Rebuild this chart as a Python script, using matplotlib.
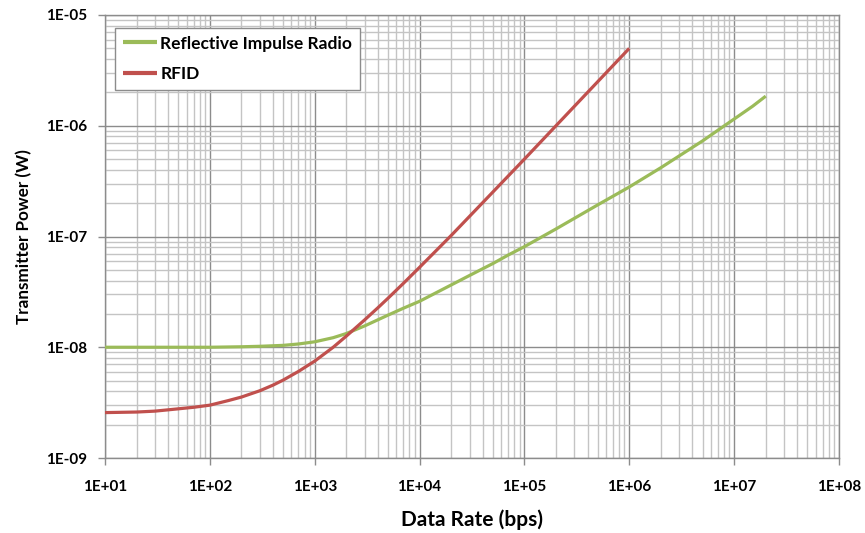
import matplotlib
matplotlib.use("Agg")
import matplotlib.pyplot as plt
from matplotlib.ticker import LogLocator, NullFormatter

plt.rcParams['font.family'] = ['Lato', 'DejaVu Sans']

# Reflective Impulse Radio
rir_x = [10, 20, 50, 100, 200, 300, 500, 700, 1000, 1500, 2000, 3000, 5000, 7000,
         1e4, 2e4, 3e4, 5e4, 7e4, 1e5, 2e5, 5e5, 1e6, 2e6, 5e6, 1e7, 1.5e7, 2e7]
rir_y = [1.0e-8, 1.0e-8, 1.0e-8, 1.0e-8, 1.01e-8, 1.02e-8, 1.04e-8, 1.07e-8,
         1.12e-8, 1.22e-8, 1.33e-8, 1.56e-8, 1.95e-8, 2.25e-8, 2.6e-8, 3.65e-8,
         4.45e-8, 5.7e-8, 6.8e-8, 8.1e-8, 1.17e-7, 1.93e-7, 2.8e-7, 4.18e-7,
         7.3e-7, 1.15e-6, 1.5e-6, 1.85e-6]

# RFID
rfid_x = [10, 20, 30, 50, 70, 100, 150, 200, 300, 400, 500, 700, 1000, 1500,
          2000, 3000, 4000, 5000, 7000, 1e4, 2e4, 5e4, 1e5, 2e5, 5e5, 1e6]
rfid_y = [2.57e-9, 2.6e-9, 2.65e-9, 2.78e-9, 2.87e-9, 3.0e-9, 3.3e-9, 3.55e-9,
          4.05e-9, 4.55e-9, 5.05e-9, 6.05e-9, 7.5e-9, 1.0e-8, 1.26e-8, 1.77e-8,
          2.27e-8, 2.77e-8, 3.77e-8, 5.27e-8, 1.02e-7, 2.52e-7, 5.0e-7, 1.0e-6,
          2.5e-6, 5.0e-6]

series_names = ["Reflective Impulse Radio", "RFID"]
x_ticks = [1e1, 1e2, 1e3, 1e4, 1e5, 1e6, 1e7, 1e8]
x_tick_labels = ["1E+01", "1E+02", "1E+03", "1E+04", "1E+05", "1E+06", "1E+07", "1E+08"]
y_ticks = [1e-9, 1e-8, 1e-7, 1e-6, 1e-5]
y_tick_labels = ["1E-09", "1E-08", "1E-07", "1E-06", "1E-05"]
x_label = "Data Rate (bps)"
y_label = "Transmitter Power (W)"

fig = plt.figure(figsize=(8.65, 5.33), dpi=100)
ax = fig.add_axes([105/865, 1-458/533, (839-105)/865, (458-15)/533])

ax.plot(rir_x, rir_y, color='#9BBB59', lw=2.3, label=series_names[0],
        solid_capstyle='butt', solid_joinstyle='round', zorder=3)
ax.plot(rfid_x, rfid_y, color='#C0504D', lw=2.3, label=series_names[1],
        solid_capstyle='butt', solid_joinstyle='round', zorder=3)

ax.set_xscale('log')
ax.set_yscale('log')
ax.set_xlim(1e1, 1e8)
ax.set_ylim(1e-9, 1e-5)

ax.set_xticks(x_ticks)
ax.set_xticklabels(x_tick_labels)
ax.set_yticks(y_ticks)
ax.set_yticklabels(y_tick_labels)
ax.xaxis.set_minor_locator(LogLocator(base=10, subs=range(2, 10), numticks=100))
ax.yaxis.set_minor_locator(LogLocator(base=10, subs=range(2, 10), numticks=100))
ax.xaxis.set_minor_formatter(NullFormatter())
ax.yaxis.set_minor_formatter(NullFormatter())

ax.grid(which='major', color='#8c8c8c', lw=1.0)
ax.grid(which='minor', color='#c4c4c4', lw=1.0)
ax.set_axisbelow(True)

for s in ax.spines.values():
    s.set_color('#8c8c8c')
    s.set_linewidth(1.0)

ax.tick_params(which='major', direction='out', length=5, width=1, color='#8c8c8c',
               labelsize=11)
ax.tick_params(axis='x', which='major', pad=11)
ax.tick_params(axis='y', which='major', pad=8)
ax.tick_params(which='minor', length=0)
for lab in ax.get_xticklabels() + ax.get_yticklabels():
    lab.set_fontweight('bold')

ax.set_xlabel(x_label, fontsize=15, fontweight='bold', labelpad=11)
ax.set_ylabel(y_label, fontsize=12.3, fontweight='bold', labelpad=10)

leg = ax.legend(loc='upper left', bbox_to_anchor=((115-105)/734, (458-27.7)/443),
                borderaxespad=0, fontsize=12.5,
                frameon=True, fancybox=False, edgecolor='#8c8c8c', framealpha=1,
                handlelength=1.95, handletextpad=0.2, borderpad=0.45,
                labelspacing=0.85)
leg.get_frame().set_linewidth(1.0)
for t in leg.get_texts():
    t.set_fontweight('bold')
for h in leg.get_lines():
    h.set_linewidth(3.0)

fig.savefig('out.png', dpi=100, facecolor='white')
